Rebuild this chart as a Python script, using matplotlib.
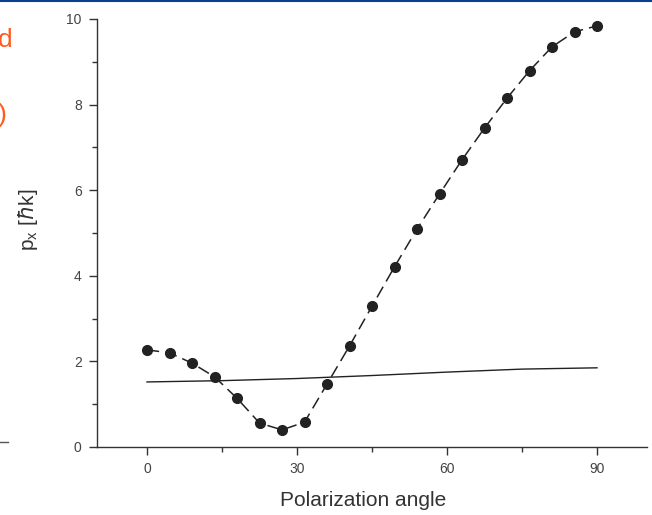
import matplotlib
matplotlib.use("Agg")
import matplotlib.pyplot as plt
from matplotlib.lines import Line2D

plt.rcParams["font.family"] = ["Liberation Sans", "DejaVu Sans"]

# measured points (dots, dashed guide)
angle = [0, 4.5, 9, 13.5, 18, 22.5, 27, 31.5, 36, 40.5, 45, 49.5, 54, 58.5,
         63, 67.5, 72, 76.5, 81, 85.5, 90]
px = [2.27, 2.20, 1.96, 1.64, 1.14, 0.56, 0.40, 0.58, 1.47, 2.36, 3.29, 4.21,
      5.09, 5.91, 6.71, 7.45, 8.15, 8.79, 9.35, 9.70, 9.84]

# reference solid line
ref_angle = [0, 15, 30, 45, 60, 75, 90]
ref_px = [1.52, 1.55, 1.60, 1.67, 1.75, 1.82, 1.85]

fig = plt.figure(figsize=(6.52, 5.15), dpi=100)
ax = fig.add_axes([97 / 652, 1 - 447 / 515, 550 / 652, 428 / 515])

ax.plot(ref_angle, ref_px, color="#222222", lw=1.0)
ax.plot(angle, px, color="#222222", lw=1.1, dashes=(8, 4),
        marker="o", ms=7, mfc="#222222", mec="#222222")

ax.set_xlim(-10, 100)
ax.set_ylim(0, 10)
ax.set_xticks([0, 30, 60, 90])
ax.set_xticks([15, 45, 75], minor=True)
ax.set_yticks([0, 2, 4, 6, 8, 10])
ax.set_yticks([1, 3, 5, 7, 9], minor=True)

for s in ["top", "right"]:
    ax.spines[s].set_visible(False)
for s in ["left", "bottom"]:
    ax.spines[s].set_color("#333333")
    ax.spines[s].set_linewidth(1.0)
ax.tick_params(which="major", direction="out", length=6, width=1.0,
               color="#333333", labelsize=10, labelcolor="#444444", pad=5)
ax.tick_params(which="minor", direction="out", length=3.5, width=1.0, color="#333333")

ax.set_xlabel("Polarization angle", fontsize=15, color="#333333")
ax.xaxis.set_label_coords(0.484, -0.103)
ax.set_ylabel(r"p$_\mathregular{x}$ [$\hbar$k]", fontsize=15, color="#333333")
ax.yaxis.set_label_coords(-0.104, 0.53)

# bits of the surrounding slide
fig.add_artist(Line2D([0, 1], [0.998, 0.998], transform=fig.transFigure,
                      color="#0b3d91", lw=1.5))
fig.add_artist(Line2D([0, 8 / 652], [1 - 442 / 515, 1 - 442 / 515],
                      transform=fig.transFigure, color="#555555", lw=1.0))
fig.text(-0.004, 1 - 40 / 515, "d", fontsize=19, color="#ff5a1f", va="center")
fig.text(-0.004, 1 - 115 / 515, ")", fontsize=19, color="#ff5a1f", va="center")

fig.savefig("out.png", dpi=100)
